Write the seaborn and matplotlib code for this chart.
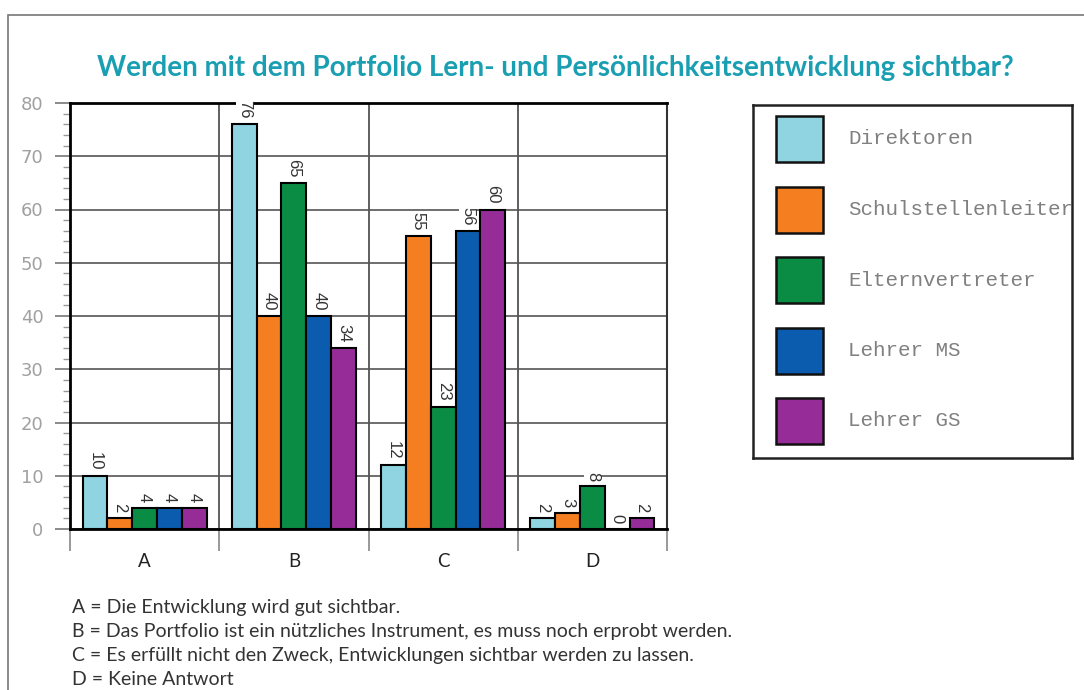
"""
Portfolio-Umfrage: gruppiertes Balkendiagramm nach Antwortkategorie
"""
import numpy as np
import pandas as pd
import matplotlib
matplotlib.use('Agg')
import matplotlib.pyplot as plt
from matplotlib.patches import Rectangle
from matplotlib.ticker import FixedLocator, MultipleLocator
import seaborn as sns

# Daten
categories = ['A', 'B', 'C', 'D']
groups = ['Direktoren', 'Schulstellenleiter', 'Elternvertreter', 'Lehrer MS', 'Lehrer GS']
direktoren = [10, 76, 12, 2]
schulstellenleiter = [2, 40, 55, 3]
elternvertreter = [4, 65, 23, 8]
lehrer_ms = [4, 40, 56, 0]
lehrer_gs = [4, 34, 60, 2]
colors = ['#8fd4e0', '#f47e20', '#0b8c45', '#0b5cae', '#962c97']
footnotes = [
    'A = Die Entwicklung wird gut sichtbar.',
    'B = Das Portfolio ist ein nützliches Instrument, es muss noch erprobt werden.',
    'C = Es erfüllt nicht den Zweck, Entwicklungen sichtbar werden zu lassen.',
    'D = Keine Antwort',
]
title = 'Werden mit dem Portfolio Lern- und Persönlichkeitsentwicklung sichtbar?'

series = [direktoren, schulstellenleiter, elternvertreter, lehrer_ms, lehrer_gs]
df = pd.DataFrame({
    'Kategorie': np.tile(categories, len(groups)),
    'Gruppe': np.repeat(groups, len(categories)),
    'Wert': np.concatenate(series),
})

sns.set_style('white')
plt.rcParams['font.family'] = ['DejaVu Sans']

W, H = 1084, 690
fig = plt.figure(figsize=(W / 100, H / 100), dpi=100)
ax = fig.add_axes([70 / W, 1 - 529 / H, 597 / W, 426 / H])

sns.barplot(data=df, x='Kategorie', y='Wert', hue='Gruppe', order=categories,
            hue_order=groups, palette=colors, width=0.83, gap=0,
            edgecolor='black', linewidth=1.5, errorbar=None, legend=False,
            saturation=1, ax=ax)

# Werte über den Balken (senkrecht, weißer Hintergrund)
for cont, vals in zip(ax.containers, series):
    ax.bar_label(cont, labels=[str(v) for v in vals], rotation=270, padding=4,
                 fontsize=12, color='#333333', family='Liberation Sans',
                 bbox=dict(facecolor='white', edgecolor='none', pad=0.8))

ax.set_ylim(0, 80)
ax.set_xlim(-0.5, len(categories) - 0.5)
ax.yaxis.set_major_locator(MultipleLocator(10))
ax.yaxis.set_minor_locator(MultipleLocator(2))
ax.xaxis.set_minor_locator(FixedLocator(np.arange(len(categories) + 1) - 0.5))
ax.set_xlabel('')
ax.set_ylabel('')

ax.grid(True, axis='y', which='major', color='#555555', linewidth=1.2, zorder=0)
ax.grid(True, axis='x', which='minor', color='#444444', linewidth=1.2, zorder=0)
ax.grid(False, axis='x', which='major')
ax.set_axisbelow(True)

ax.tick_params(axis='y', which='major', direction='out', length=11, width=1.2,
               color='#777777', labelcolor='#a0a0a0', labelsize=13, pad=8, left=True)
ax.tick_params(axis='y', which='minor', direction='out', length=5, width=1,
               color='#999999', left=True)
ax.tick_params(axis='x', which='major', length=0, pad=17, labelsize=13.5,
               labelcolor='#222222')
ax.tick_params(axis='x', which='minor', direction='out', length=16, width=1.2,
               color='#888888', bottom=True)
for lab in ax.get_xticklabels():
    lab.set_family(['Lato', 'DejaVu Sans'])

for side in ['left', 'bottom', 'top']:
    ax.spines[side].set_color('black')
    ax.spines[side].set_linewidth(2)
ax.spines['right'].set_color('#333333')
ax.spines['right'].set_linewidth(1.5)
for sp in ax.spines.values():
    sp.set_visible(True)

# Titel
fig.text(555 / W, 1 - 68 / H, title, ha='center', va='center', fontsize=20,
         fontweight='bold', color='#1a9fb2', family=['Lato', 'DejaVu Sans'])

# Legende als eigener Kasten (Text wird am Rand abgeschnitten)
lax = fig.add_axes([753 / W, 1 - 458 / H, 319 / W, 353 / H])
lax.set_xlim(0, 319)
lax.set_ylim(353, 0)
lax.set_xticks([])
lax.set_yticks([])
for sp in lax.spines.values():
    sp.set_color('#222222')
    sp.set_linewidth(1.8)
for i, (name, col) in enumerate(zip(groups, colors)):
    yc = 34 + i * 70.5
    lax.add_patch(Rectangle((23, yc - 23), 47, 46, facecolor=col,
                            edgecolor='#111111', linewidth=1.8))
    lax.text(95, yc, name, va='center', ha='left', fontsize=15,
             family='Liberation Mono', color='#808080', clip_on=True)

# Erläuterungen
for i, line in enumerate(footnotes):
    fig.text(72 / W, 1 - (607 + i * 24.3) / H, line, ha='left', va='center',
             fontsize=14, color='#333333', family=['Lato', 'DejaVu Sans'])

# äußerer Rahmen
fig.patches.append(Rectangle((8 / W, -0.1), 1.2, 1 - 15 / H + 0.1,
                             transform=fig.transFigure, fill=False,
                             edgecolor='#777777', linewidth=1.2))

fig.savefig('out.png', dpi=100)
plt.close(fig)
print('✓ gespeichert: out.png')
